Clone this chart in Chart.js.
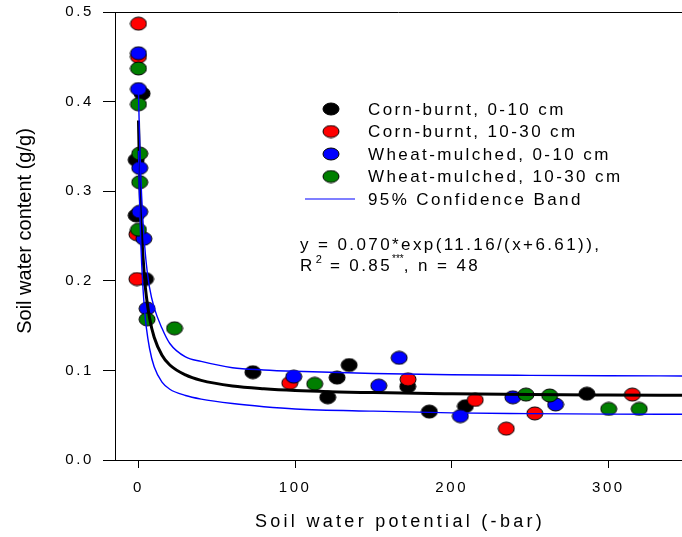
<!DOCTYPE html>
<html>
<head>
<meta charset="utf-8">
<script src="https://cdn.jsdelivr.net/npm/chart.js@4.4.1/dist/chart.umd.min.js"></script>
<style>
body { margin: 0; background: #fff; }
</style>
</head>
<body>
<canvas id="chart" width="682" height="537"></canvas>
<script>
// series
const labels = ['Corn-burnt, 0-10 cm', 'Corn-burnt, 10-30 cm', 'Wheat-mulched, 0-10 cm', 'Wheat-mulched, 10-30 cm']
const colors = ['#000000', '#ff0000', '#0000ff', '#007f00']

const blackX = [2.3, -1.5, -1.5, 4.5, 73, 120.8, 126.8, 134.5, 171.9, 185.7, 208.7, 286.3]
const blackY = [0.409, 0.335, 0.273, 0.202, 0.098, 0.070, 0.092, 0.106, 0.082, 0.054, 0.060, 0.074]
const redX = [0, 0, -1, -1, 96.6, 172.1, 215, 234.8, 253, 315.3]
const redY = [0.487, 0.450, 0.252, 0.202, 0.086, 0.090, 0.067, 0.035, 0.052, 0.073]
const blueX = [0, 0, 0.8, 0.8, 3.4, 5.5, 99.1, 153.4, 166.4, 205.5, 239, 266.3]
const blueY = [0.454, 0.414, 0.326, 0.277, 0.247, 0.169, 0.093, 0.083, 0.114, 0.049, 0.070, 0.062]
const greenX = [0, 0, 0.8, 0.8, 0, 5.5, 23, 112.5, 247.4, 262.5, 300.2, 319.7]
const greenY = [0.437, 0.397, 0.342, 0.310, 0.257, 0.157, 0.147, 0.085, 0.073, 0.072, 0.057, 0.057]

const curveX = [0, 0.5, 1, 1.5, 2, 2.5, 3, 4, 5, 7, 10, 15, 20, 30, 40, 60, 80, 100, 150, 200, 250, 300, 350]
const fitY = [0.379, 0.336, 0.303, 0.277, 0.256, 0.238, 0.224, 0.200, 0.183, 0.159, 0.137, 0.117, 0.106, 0.0949, 0.0889, 0.0827, 0.0796, 0.0777, 0.0752, 0.0739, 0.0731, 0.0726, 0.0722]
const upperY = [0.410, 0.372, 0.340, 0.315, 0.295, 0.277, 0.262, 0.238, 0.219, 0.193, 0.170, 0.147, 0.130, 0.115, 0.110, 0.103, 0.1005, 0.099, 0.0965, 0.0952, 0.0945, 0.094, 0.0938]
const lowerY = [0.345, 0.300, 0.268, 0.241, 0.220, 0.203, 0.188, 0.165, 0.148, 0.125, 0.104, 0.087, 0.079, 0.072, 0.068, 0.063, 0.0595, 0.057, 0.0545, 0.0526, 0.0518, 0.0512, 0.051]

const xTicks = [0, 100, 200, 300]
const yTicks = [0, 0.1, 0.2, 0.3, 0.4, 0.5]

const FONT = '"Liberation Sans", Arial, sans-serif'

function pairs(xs, ys) {
    return xs.map((x, i) => ({x: x, y: ys[i]}))
}

function dot(color, w, h) {
    const c = document.createElement('canvas')
    c.width = w + 2
    c.height = h + 2
    const g = c.getContext('2d')
    g.beginPath()
    g.ellipse(c.width / 2, c.height / 2, w / 2, h / 2, 0, 0, Math.PI * 2)
    g.fillStyle = color
    g.fill()
    g.lineWidth = 1
    g.strokeStyle = '#000'
    g.stroke()
    return c
}

function scatterSet(i, xs, ys, order) {
    return {
        type: 'scatter',
        label: labels[i],
        data: pairs(xs, ys),
        pointStyle: dot(colors[i], 16, 13),
        pointRadius: 7,
        order: order
    }
}

function lineSet(ys, color, width) {
    return {
        type: 'line',
        data: pairs(curveX, ys),
        borderColor: color,
        borderWidth: width,
        pointRadius: 0,
        fill: false,
        cubicInterpolationMode: 'monotone',
        order: 0
    }
}

const decor = {
    id: 'decor',
    beforeDraw(chart) {
        chart.ctx.letterSpacing = '2.6px'
    },
    afterDraw(chart) {
        const ctx = chart.ctx
        const a = chart.chartArea
        ctx.save()
        // top frame line
        ctx.strokeStyle = '#000'
        ctx.lineWidth = 1
        ctx.beginPath()
        ctx.moveTo(a.left, a.top + 0.5)
        ctx.lineTo(a.right, a.top + 0.5)
        ctx.stroke()

        // legend
        const rows = [109, 131.5, 154, 176.5, 199]
        ctx.fillStyle = '#000'
        ctx.textBaseline = 'middle'
        ctx.textAlign = 'left'
        ctx.font = '17px ' + FONT
        ctx.letterSpacing = '2.4px'
        for (let i = 0; i < 4; i++) {
            const d = dot(colors[i], 16, 12)
            ctx.drawImage(d, 331 - d.width / 2, rows[i] - d.height / 2)
            ctx.fillText(labels[i], 368, rows[i] + 1)
        }
        ctx.strokeStyle = '#0000ff'
        ctx.lineWidth = 1.2
        ctx.beginPath()
        ctx.moveTo(305, rows[4])
        ctx.lineTo(355, rows[4])
        ctx.stroke()
        ctx.fillText('95% Confidence Band', 368, rows[4] + 1)

        // equation
        ctx.fillText('y = 0.070*exp(11.16/(x+6.61)),', 300, 245)
        let x = 300
        const y2 = 266
        const parts = [['R', 0], ['2', 1], [' = 0.85', 0], ['***', 2], [', n = 48', 0]]
        parts.forEach(p => {
            if (p[1] === 0) {
                ctx.font = '17px ' + FONT
                ctx.letterSpacing = '2.4px'
                ctx.fillText(p[0], x, y2)
            } else if (p[1] === 1) {
                ctx.font = '11px ' + FONT
                ctx.letterSpacing = '1px'
                ctx.fillText(p[0], x + 1, y2 - 6)
            } else {
                ctx.font = '10px ' + FONT
                ctx.letterSpacing = '0px'
                ctx.fillText(p[0], x, y2 - 7)
            }
            x += ctx.measureText(p[0]).width + (p[1] === 1 ? 1 : 0)
        })

        // axis titles
        ctx.font = '18px ' + FONT
        ctx.letterSpacing = '3.3px'
        ctx.textAlign = 'center'
        ctx.fillText('Soil water potential (-bar)', 400, 522)

        ctx.font = '20px ' + FONT
        ctx.letterSpacing = '0px'
        ctx.translate(25, 231)
        ctx.rotate(-Math.PI / 2)
        ctx.fillText('Soil water content (g/g)', 0, 0)
        ctx.restore()
        ctx.letterSpacing = '0px'
    }
}

new Chart(document.getElementById('chart'), {
    type: 'scatter',
    data: {
        datasets: [
            lineSet(upperY, '#0000ff', 1.4),
            lineSet(lowerY, '#0000ff', 1.4),
            lineSet(fitY, '#000000', 3),
            scatterSet(3, greenX, greenY, 1),
            scatterSet(2, blueX, blueY, 2),
            scatterSet(1, redX, redY, 3),
            scatterSet(0, blackX, blackY, 4)
        ]
    },
    options: {
        responsive: false,
        animation: false,
        events: [],
        layout: {autoPadding: false, padding: {top: 12, right: 0, left: 0, bottom: 0}},
        plugins: {
            legend: {display: false},
            tooltip: {enabled: false}
        },
        scales: {
            x: {
                type: 'linear',
                min: -15,
                max: 347,
                afterBuildTicks: s => { s.ticks = xTicks.map(v => ({value: v})) },
                afterFit: s => { s.height = 77; s.paddingLeft = 0; s.paddingRight = 0 },
                grid: {drawOnChartArea: false, drawTicks: true, tickLength: 8, color: '#000'},
                border: {display: true, color: '#000', width: 1},
                ticks: {
                    color: '#000',
                    padding: 11,
                    maxRotation: 0,
                    font: {family: FONT, size: 15}
                }
            },
            y: {
                type: 'linear',
                min: 0,
                max: 0.5,
                afterBuildTicks: s => { s.ticks = yTicks.map(v => ({value: v})) },
                afterFit: s => { s.width = 115; s.paddingTop = 0; s.paddingBottom = 0 },
                grid: {drawOnChartArea: false, drawTicks: true, tickLength: 12, color: '#000'},
                border: {display: true, color: '#000', width: 1},
                ticks: {
                    color: '#000',
                    padding: 9,
                    callback: v => v.toFixed(1),
                    font: {family: FONT, size: 15}
                }
            }
        }
    },
    plugins: [decor]
})
</script>
</body>
</html>
